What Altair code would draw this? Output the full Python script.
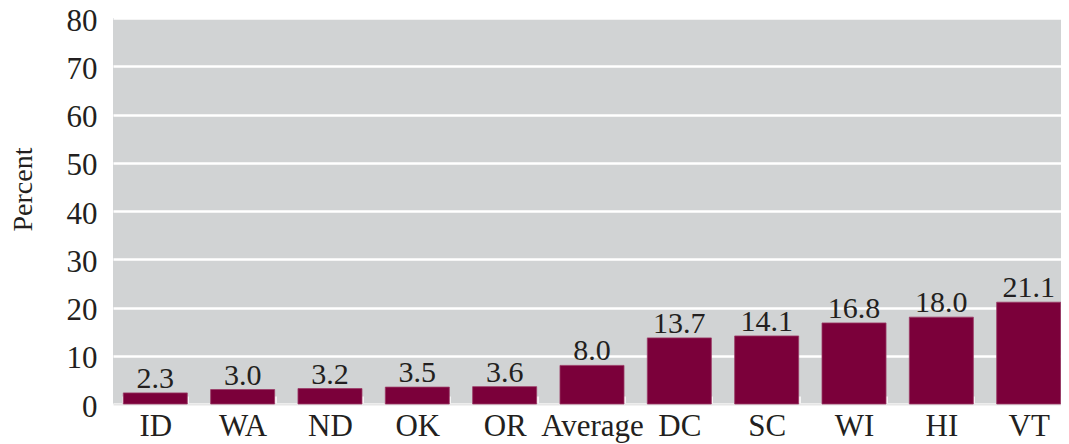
import altair as alt
import pandas as pd

states = ["ID", "WA", "ND", "OK", "OR", "Average", "DC", "SC", "WI", "HI", "VT"]
values = [2.3, 3.0, 3.2, 3.5, 3.6, 8.0, 13.7, 14.1, 16.8, 18.0, 21.1]
y_ticks = [0, 10, 20, 30, 40, 50, 60, 70, 80]

df = pd.DataFrame({"state": states, "value": values,
                   "label": [f"{v:.1f}" for v in values]})

FONT = "Liberation Serif, Times New Roman, DejaVu Serif, serif"
TEXT = "#231f20"

x = alt.X("state:N", sort=states, title=None,
          scale=alt.Scale(paddingInner=0.267, paddingOuter=0.118),
          axis=alt.Axis(labelAngle=0, labelFont=FONT, labelFontSize=31,
                        labelColor=TEXT, labelPadding=15,
                        domainColor="#e6e6e6", domainWidth=2,
                        tickColor="white", tickWidth=2.5,
                        tickSize=alt.ExprRef("-8"), tickBand="extent"))
y = alt.Y("value:Q", title="Percent",
          scale=alt.Scale(domain=[0, 80], nice=False),
          axis=alt.Axis(values=y_ticks, labelFont=FONT, labelFontSize=31,
                        labelColor=TEXT, labelPadding=16, labelOffset=3, ticks=False,
                        domain=False, gridColor="white", gridWidth=2.5,
                        titleFont=FONT, titleFontSize=28, titleFontWeight="normal",
                        titleColor=TEXT, titleAngle=-90, titleAlign="center",
                        titleBaseline="middle", titleX=-90, titleY=171))

bars = alt.Chart(df).mark_bar(color="#7b003a", stroke="#9a3a66", strokeWidth=0.8).encode(x=x, y=y)
labels = alt.Chart(df).mark_text(font=FONT, fontSize=30, color=TEXT,
                                 baseline="alphabetic", dy=-5).encode(
    x=alt.X("state:N", sort=states), y="value:Q", text="label:N")

chart = (bars + labels).properties(
    width=958, height=386,
    autosize=alt.AutoSizeParams(type="none"),
    padding={"left": 105, "top": 10, "right": -10, "bottom": 42},
).configure(background="white").configure_view(fill="#d1d3d4", strokeWidth=0)

chart.save("out.html", embed_options={"renderer": "svg", "actions": False})
